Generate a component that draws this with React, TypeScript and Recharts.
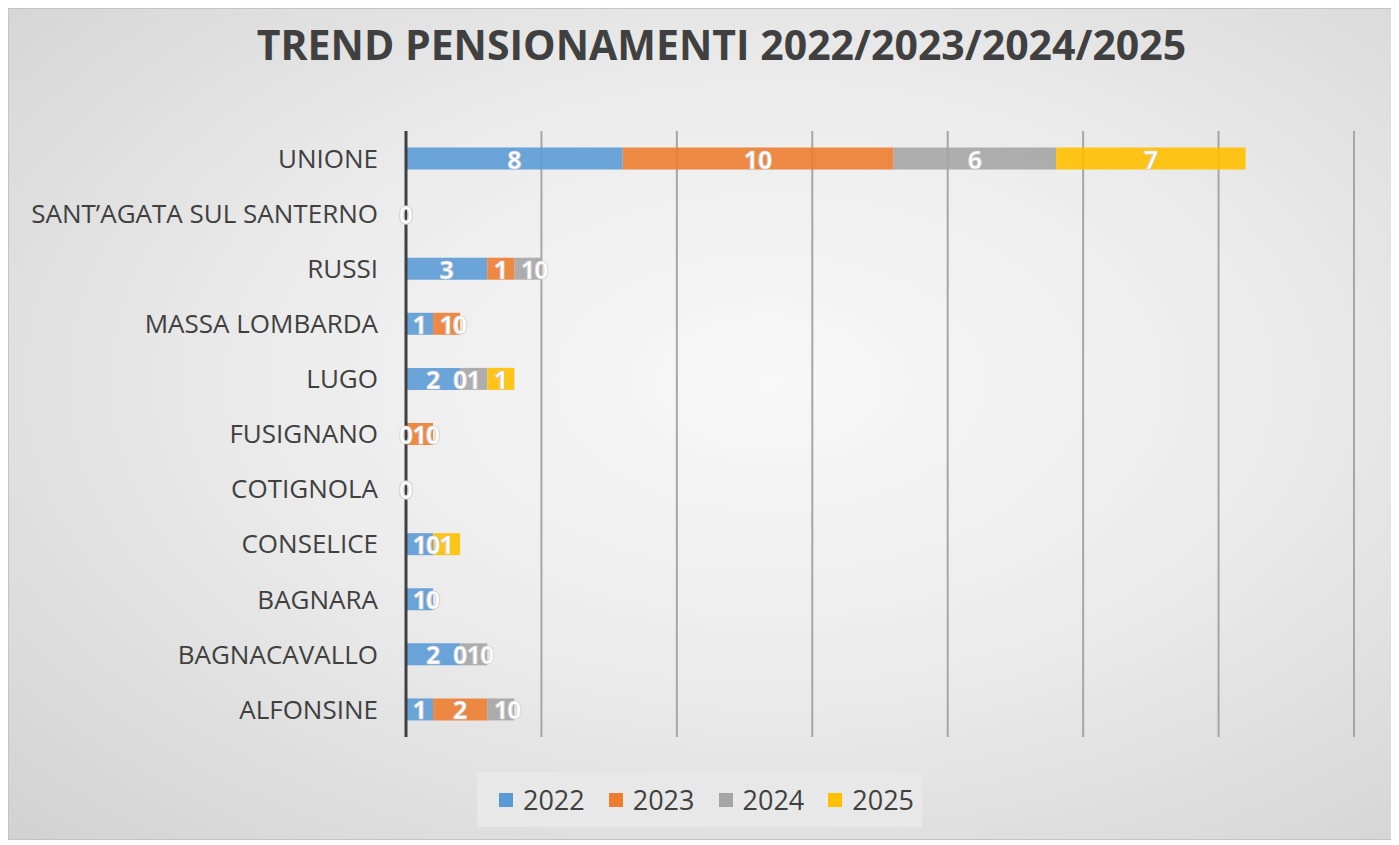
import { ComposedChart, Bar, Scatter, XAxis, YAxis, CartesianGrid, Legend } from "recharts";

const comuni = [
  "UNIONE",
  "SANT’AGATA SUL SANTERNO",
  "RUSSI",
  "MASSA LOMBARDA",
  "LUGO",
  "FUSIGNANO",
  "COTIGNOLA",
  "CONSELICE",
  "BAGNARA",
  "BAGNACAVALLO",
  "ALFONSINE",
];
const v2022 = [8, 0, 3, 1, 2, 0, 0, 1, 1, 2, 1];
const v2023 = [10, 0, 1, 1, 0, 1, 0, 0, 0, 0, 2];
const v2024 = [6, 0, 1, 0, 1, 0, 0, 0, 0, 1, 1];
const v2025 = [7, 0, 0, 0, 1, 0, 0, 1, 0, 0, 0];
const xTicks = [0, 5, 10, 15, 20, 25, 30, 35];

const series = [
  { key: "2022", color: "#5b9bd5", values: v2022 },
  { key: "2023", color: "#ed7d31", values: v2023 },
  { key: "2024", color: "#a5a5a5", values: v2024 },
  { key: "2025", color: "#ffc000", values: v2025 },
];

// tabella per recharts: valori + centro di ogni segmento (per le etichette, anche gli 0)
const data = comuni.map((name, i) => {
  const row: any = { name };
  let start = 0;
  series.forEach((s) => {
    const v = s.values[i];
    row[s.key] = v;
    row["pos" + s.key] = start + v / 2;
    start += v;
  });
  return row;
});

const FONT = "'Open Sans', 'Liberation Sans', sans-serif";

const makeLabel = (key: string) => (props: any) => {
  const { cx, cy, payload } = props;
  if (cx == null || cy == null) return <g />;
  return (
    <text
      x={cx}
      y={cy}
      textAnchor="middle"
      dominantBaseline="central"
      fill="#ffffff"
      stroke="#cfcfcf"
      strokeWidth={0.7}
      fontSize={25}
      fontFamily={FONT}
      fontWeight={700}
    >
      {String(payload[key])}
    </text>
  );
};

function LegendBox() {
  return (
    <div
      style={{
        position: "absolute",
        left: 468,
        top: 0,
        width: 445,
        height: 55,
        background: "#e8e8e8",
        display: "flex",
        alignItems: "center",
        justifyContent: "center",
        gap: 24,
        paddingLeft: 14,
        boxSizing: "border-box",
        fontFamily: FONT,
        fontSize: 27,
        color: "#404040",
      }}
    >
      {series.map((s) => (
        <div key={s.key} style={{ display: "flex", alignItems: "center", gap: 10 }}>
          <span style={{ width: 14, height: 14, background: s.color, display: "inline-block" }} />
          <span>{s.key}</span>
        </div>
      ))}
    </div>
  );
}

export default function App() {
  return (
    <div
      style={{
        position: "relative",
        width: 1385,
        height: 830,
        background: "radial-gradient(ellipse at 55% 45%, #f8f8f8 0%, #ececec 45%, #d2d2d2 100%)",
        border: "1px solid #c4c4c4",
      }}
    >
      <div
        style={{
          position: "absolute",
          left: 0,
          width: "100%",
          top: 7,
          textAlign: "center",
          fontFamily: FONT,
          fontWeight: 700,
          fontSize: 41,
          color: "#404040",
          paddingLeft: 40,
          boxSizing: "border-box",
        }}
      >
        TREND PENSIONAMENTI 2022/2023/2024/2025
      </div>
      <ComposedChart
        width={1385}
        height={830}
        data={data}
        layout="vertical"
        barCategoryGap="30%"
        margin={{ top: 122, right: 40, bottom: 30, left: 0 }}
      >
        <CartesianGrid horizontal={false} stroke="#a6a6a6" strokeWidth={2} />
        <XAxis
          type="number"
          domain={[0, 35]}
          ticks={xTicks}
          tick={() => <g />}
          axisLine={false}
          tickLine={false}
          height={17}
        />
        <YAxis
          type="category"
          dataKey="name"
          width={397}
          axisLine={{ stroke: "#404040", strokeWidth: 3 }}
          tickLine={false}
          tickMargin={22}
          tick={{ fontSize: 26, fill: "#404040", fontFamily: FONT }}
        />
        {series.map((s) => (
          <Bar
            key={s.key}
            dataKey={s.key}
            stackId="a"
            fill={s.color}
            fillOpacity={0.9}
            isAnimationActive={false}
          />
        ))}
        {series.map((s) => (
          <Scatter
            key={"lbl" + s.key}
            dataKey={"pos" + s.key}
            legendType="none"
            shape={makeLabel(s.key)}
            isAnimationActive={false}
          />
        ))}
        <Legend
          verticalAlign="bottom"
          content={() => <LegendBox />}
          wrapperStyle={{ left: 0, bottom: 12, width: 1385, height: 55 }}
        />
      </ComposedChart>
    </div>
  );
}
